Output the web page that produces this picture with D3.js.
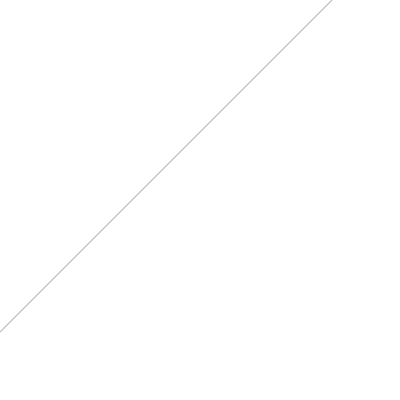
<!DOCTYPE html>
<html>
<head>
<meta charset="utf-8">
<script src="https://cdn.jsdelivr.net/npm/d3@7"></script>
<style>
  html, body { margin: 0; padding: 0; background: #fff; }
  svg { display: block; }
</style>
</head>
<body>
<div id="chart"></div>
<script>
// Serie: una sola línea diagonal de referencia
const xValues = [0, 1];
const yValues = [0, 1];

const width = 400;
const height = 400;

const svg = d3.select('#chart')
  .append('svg')
  .attr('width', width)
  .attr('height', height);

// Escalas (el área de trazado ocupa 0..332 px)
const x = d3.scaleLinear().domain([0, 1]).range([0, 332]);
const y = d3.scaleLinear().domain([0, 1]).range([332, 0]);

const line = d3.line()
  .x((d, i) => x(xValues[i]))
  .y((d, i) => y(yValues[i]));

svg.append('path')
  .datum(xValues)
  .attr('d', line)
  .attr('fill', 'none')
  .attr('stroke', '#bbbbbb')
  .attr('stroke-width', 1.1);
</script>
</body>
</html>
